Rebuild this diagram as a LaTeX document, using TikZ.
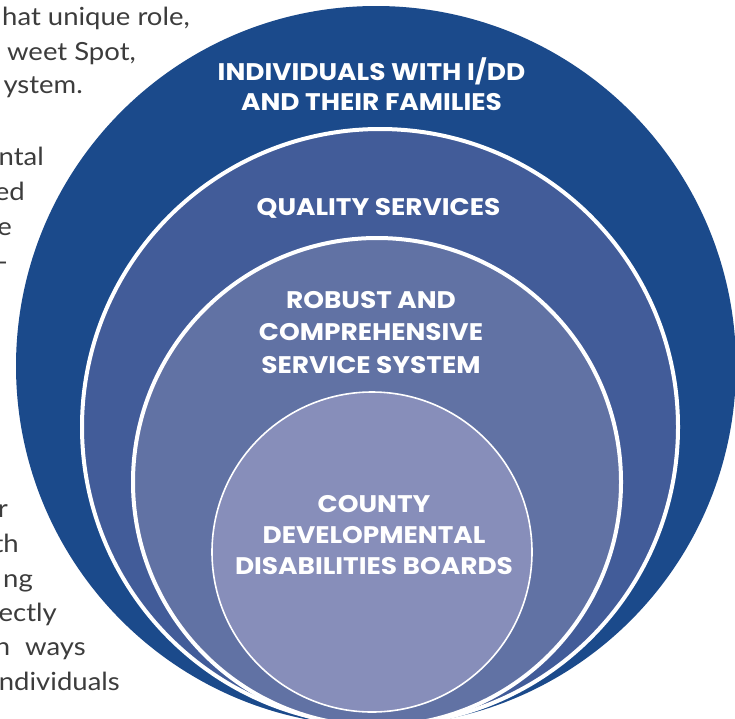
\documentclass[tikz,border=0pt]{standalone}
\usepackage{fontspec}
\setmainfont{Lato}[FakeStretch=1.1]
\newfontfamily\capsfont{Poppins}[FakeStretch=1.1]
\definecolor{darkring}{HTML}{1B4A8B}
\definecolor{qualityring}{HTML}{425C99}
\definecolor{systemring}{HTML}{6172A4}
\definecolor{boardring}{HTML}{878EBA}
\definecolor{bodygray}{HTML}{3C3C3C}

\begin{document}
\begin{tikzpicture}[x=1pt,y=-1pt]

\tikzstyle{ring}=[circle,inner sep=0pt,draw=white,line width=4pt]
\tikzstyle{caps}=[text=white,align=center,anchor=base,inner sep=0pt,font=\capsfont\bfseries\fontsize{24}{30}\selectfont]
\tikzstyle{frag}=[anchor=base east,inner sep=0pt,text=bodygray,font=\fontsize{25}{34}\selectfont]

\useasboundingbox (0,0) rectangle (735,718);

%text running beside the rings.
\node[frag] (line1) at (190,25) {hat unique role,};
\node[frag] (line2) at (136,60) {weet Spot,};
\node[frag] (line3) at (83,93) {ystem.};
\node[frag] (line4) at (44,165) {ntal};
\node[frag] (line5) at (25,200) {ed};
\node[frag] (line6) at (12,235) {e};
\node[frag] (line7) at (8,270) {-};
\node[frag] (line8) at (8,517) {r};
\node[frag] (line9) at (19,552) {th};
\node[frag] (line10) at (33,587) {ng};
\node[frag] (line11) at (57,621) {ectly};
\node[frag] (line12) at (86,655) {n\hspace{0.6em}ways};
\node[frag] (line13) at (120,690) {ndividuals};

%rings, outside in.
\node[ring,draw=none,fill=darkring,minimum size=720pt] (outer) at (376,366) {};
\node[ring,fill=qualityring,minimum size=596pt] (quality) at (380,427) {};
\node[ring,fill=systemring,minimum size=488pt] (system) at (377,482) {};
\node[ring,fill=boardring,line width=1.6pt,minimum size=320pt] (boards) at (372,552) {};

%ring labels, placed by their last line.
\node[caps] (people) at (371.5,110.5) {INDIVIDUALS WITH I/DD\\AND THEIR FAMILIES};
\node[caps] (services) at (378.5,215) {QUALITY SERVICES};
\node[caps] (robust) at (371,373) {ROBUST AND\\[2.5pt]COMPREHENSIVE\\[2.5pt]SERVICE SYSTEM};
\node[caps] (county) at (374,574) {COUNTY\\[1pt]DEVELOPMENTAL\\[1pt]DISABILITIES BOARDS};

\end{tikzpicture}
\end{document}
